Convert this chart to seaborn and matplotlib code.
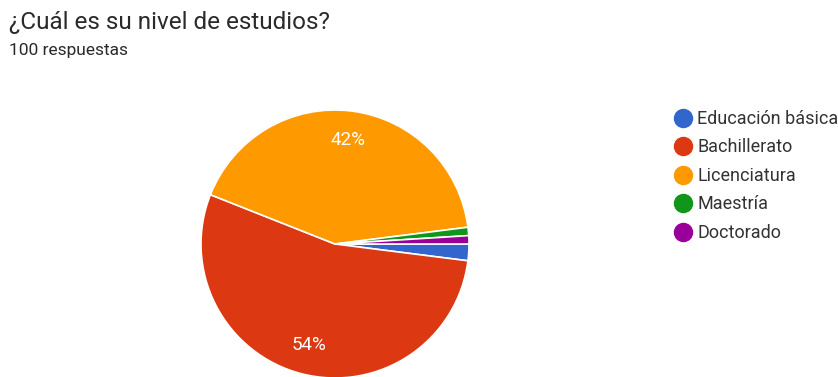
import matplotlib
matplotlib.use("Agg")
import matplotlib.pyplot as plt
from matplotlib.lines import Line2D
import seaborn as sns

# Survey data
categories = ["Educación básica", "Bachillerato", "Licenciatura", "Maestría", "Doctorado"]
counts = [2, 54, 42, 1, 1]
colors = ["#3366cc", "#dc3912", "#ff9900", "#109618", "#990099"]
title = "¿Cuál es su nivel de estudios?"
subtitle = "100 respuestas"

sns.set_theme(style="white")
plt.rcParams["font.family"] = ["Roboto", "DejaVu Sans"]

W, H = 838, 377
fig = plt.figure(figsize=(W / 100, H / 100), dpi=100)
fig.patch.set_facecolor("white")

# Pie axes placed in pixel units: center (335, 244), radius 134
cx, cy, r = 335, 244, 134
ax = fig.add_axes([(cx - r) / W, (H - cy - r) / H, 2 * r / W, 2 * r / H])


def pct_label(p):
    return f"{p:.0f}%" if p >= 5 else ""


wedges, _, autotexts = ax.pie(
    counts,
    colors=colors,
    startangle=0,
    counterclock=False,
    autopct=pct_label,
    pctdistance=0.78,
    wedgeprops=dict(edgecolor="white", linewidth=1.2),
    textprops=dict(color="white", fontsize=13.5),
)
ax.set_xlim(-1, 1)
ax.set_ylim(-1, 1)
ax.set_aspect("equal")
ax.axis("off")

# Header
fig.text(9 / W, 1 - 22 / H, title, fontsize=17.5, color="#2a2a2a", va="center", ha="left")
fig.text(9 / W, 1 - 50 / H, subtitle, fontsize=12.5, color="#2a2a2a", va="center", ha="left")

# Legend with circular markers
handles = [
    Line2D([0], [0], marker="o", linestyle="", markersize=13,
           markerfacecolor=c, markeredgecolor=c)
    for c in colors
]
fig.legend(
    handles, categories,
    loc="upper left",
    bbox_to_anchor=(664 / W, 1 - 101 / H),
    frameon=False,
    fontsize=13,
    labelcolor="#333333",
    handletextpad=0.25,
    labelspacing=0.58,
    handlelength=1.1,
    borderpad=0,
)

fig.savefig("out.png", dpi=100, facecolor="white")
